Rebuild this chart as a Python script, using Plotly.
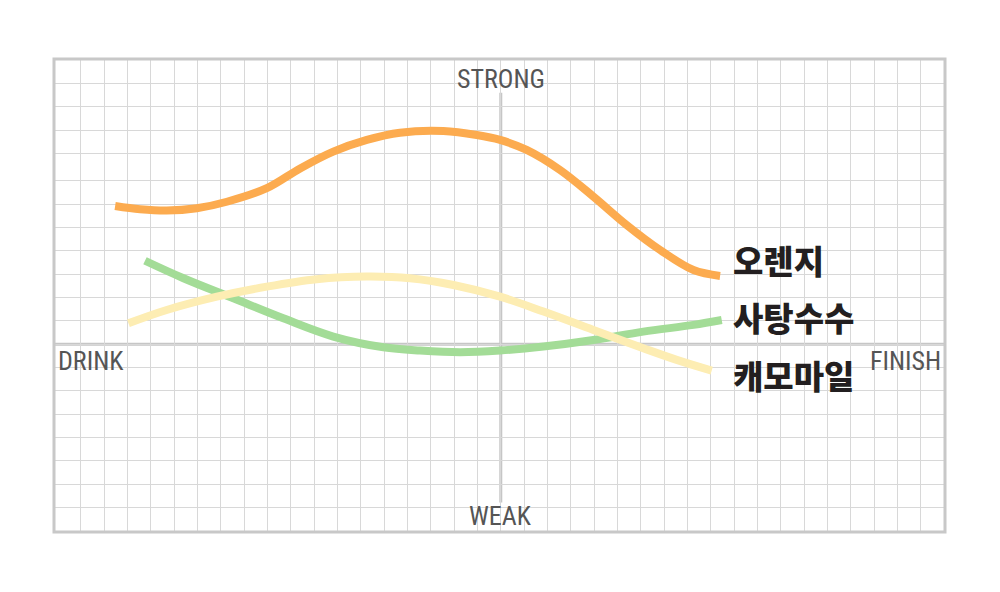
import plotly.graph_objects as go

# Data (grid units: center = 0, one grid cell = 1)
orange_x = [-16.53, -15.46, -14.32, -13.03, -11.74, -10.03, -8.60, -7.18, -5.74, -4.32, -2.46, -1.03, -0.03, 1.11, 2.54, 3.97, 5.40, 6.83, 8.26, 9.40]
orange_y = [5.93, 5.79, 5.73, 5.83, 6.11, 6.69, 7.54, 8.26, 8.76, 9.07, 9.14, 8.97, 8.76, 8.33, 7.47, 6.33, 5.11, 4.04, 3.18, 2.93]

green_x = [-15.25, -13.60, -11.46, -9.32, -7.18, -5.03, -3.46, -1.74, -0.03, 1.83, 3.97, 6.11, 8.26, 9.47]
green_y = [3.58, 2.83, 1.97, 1.11, 0.33, -0.13, -0.27, -0.34, -0.27, -0.10, 0.18, 0.54, 0.83, 1.04]

yellow_x = [-15.96, -14.32, -12.17, -10.03, -7.89, -5.74, -3.89, -2.03, -0.03, 1.83, 3.97, 6.11, 7.54, 9.04]
yellow_y = [0.90, 1.47, 2.04, 2.47, 2.79, 2.90, 2.83, 2.54, 2.04, 1.40, 0.61, -0.17, -0.67, -1.13]

series_names = ["오렌지", "사탕수수", "캐모마일"]
series_colors = ["#fcab4f", "#a3dc97", "#fdedb3"]

axis_labels = {"top": "STRONG", "bottom": "WEAK", "left": "DRINK", "right": "FINISH"}

x_grid = list(range(-18, 19))
y_grid = [-7, -6, -5, -4, -3, -2, -1, 0, 1, 2, 3, 4, 5, 6, 7, 8.17, 9.17, 10.18, 11.18]

X_RANGE = [-19.15, 19.04]
Y_RANGE = [-8.05, 12.23]

fig = go.Figure()

for xs, ys, name, col in [
    (orange_x, orange_y, series_names[0], series_colors[0]),
    (green_x, green_y, series_names[1], series_colors[1]),
    (yellow_x, yellow_y, series_names[2], series_colors[2]),
]:
    fig.add_trace(go.Scatter(
        x=xs, y=ys, mode="lines", name=name,
        line=dict(color=col, width=8, shape="spline", smoothing=1.0),
        hoverinfo="skip", showlegend=False,
    ))

grid_col = "#d8d8d8"
fig.update_xaxes(range=X_RANGE, tickvals=x_grid, showticklabels=False,
                 showgrid=True, gridcolor=grid_col, gridwidth=1.4,
                 zeroline=False, showline=False, fixedrange=True)
fig.update_yaxes(range=Y_RANGE, tickvals=y_grid, showticklabels=False,
                 showgrid=True, gridcolor=grid_col, gridwidth=1.4,
                 zeroline=False, showline=False, fixedrange=True)

axis_col = "#c6c6c6"
shapes = [
    # horizontal center axis
    dict(type="line", xref="x", yref="y", x0=X_RANGE[0], x1=X_RANGE[1], y0=0, y1=0,
         line=dict(color=axis_col, width=3), layer="below"),
    # vertical center axis
    dict(type="line", xref="x", yref="y", x0=0, x1=0, y0=-6.79, y1=10.78,
         line=dict(color=axis_col, width=3), layer="below"),
    # border
    dict(type="rect", xref="paper", yref="paper", x0=0, x1=1, y0=0, y1=1,
         line=dict(color="#c8c8c8", width=3), layer="above"),
]

latin_font = "Roboto Condensed, Liberation Sans Narrow, DejaVu Sans Condensed, Roboto, sans-serif"
lab_font = dict(family=latin_font, size=26, color="#555555")
kr_font = dict(family="Noto Sans CJK KR, sans-serif", size=33, color="#231f20", weight=900)

annotations = [
    dict(x=0, y=11.39, text=axis_labels["top"], xanchor="center", yanchor="middle", font=lab_font),
    dict(x=0, y=-7.36, text=axis_labels["bottom"], xanchor="center", yanchor="middle", font=lab_font),
    dict(x=-19.08, y=-0.72, text=axis_labels["left"], xanchor="left", yanchor="middle", font=lab_font),
    dict(x=18.95, y=-0.72, text=axis_labels["right"], xanchor="right", yanchor="middle", font=lab_font),
    dict(x=9.85, y=3.61, text=series_names[0], xanchor="left", yanchor="middle", font=kr_font),
    dict(x=9.85, y=1.17, text=series_names[1], xanchor="left", yanchor="middle", font=kr_font),
    dict(x=9.85, y=-1.31, text=series_names[2], xanchor="left", yanchor="middle", font=kr_font),
]
for a in annotations:
    a.update(xref="x", yref="y", showarrow=False)

fig.update_layout(
    width=992, height=584,
    margin=dict(l=46, r=55, t=51, b=60),
    paper_bgcolor="white", plot_bgcolor="white",
    shapes=shapes, annotations=annotations,
)

fig.write_html("out.html", config={"displayModeBar": False})
